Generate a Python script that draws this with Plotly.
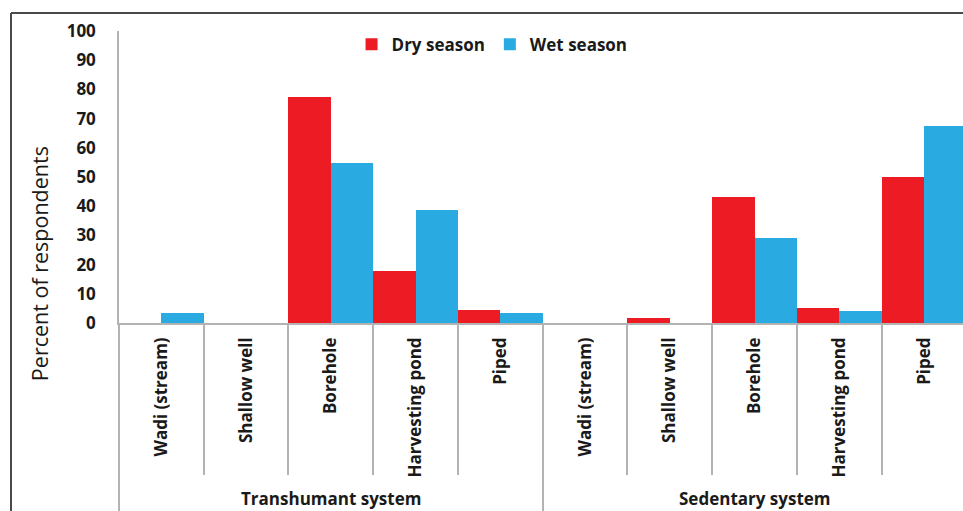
import plotly.graph_objects as go

systems = ["Transhumant system", "Sedentary system"]
sources = ["Wadi (stream)", "Shallow well", "Borehole", "Harvesting pond", "Piped"]
dry_season = [0, 0, 77.4, 17.7, 4.6, 0, 1.7, 43.2, 5.0, 50.0]
wet_season = [3.3, 0, 54.9, 38.6, 3.3, 0, 0, 29.1, 4.0, 67.3]
y_ticks = [0, 10, 20, 30, 40, 50, 60, 70, 80, 90, 100]

cat_labels = [s for _ in systems for s in sources]
n = len(cat_labels)
xpos = list(range(n))
per = len(sources)

RED = "#ED1C24"
BLUE = "#29ABE2"
GRAY = "#b3b3b3"
FONT = "Open Sans"
BOLD = dict(family=FONT, size=17, color="#1a1a1a", weight="bold")

xr = [-0.5, 9.46]

fig = go.Figure()
fig.add_trace(go.Bar(name="Dry season", x=xpos, y=dry_season, marker_color=RED))
fig.add_trace(go.Bar(name="Wet season", x=xpos, y=wet_season, marker_color=BLUE))
# helper invisible traces so overlay axes get drawn
for ax in ["x2", "x3"]:
    fig.add_trace(go.Scatter(x=[None], y=[None], xaxis=ax, showlegend=False, hoverinfo="skip"))

inner_bounds = [i + 0.5 for i in range(n - 1) if (i + 1) % per != 0]
group_bounds = [g * per - 0.5 for g in range(len(systems))]

fig.update_layout(
    template="none",
    width=963, height=511,
    margin=dict(l=119, r=0, t=31, b=188, autoexpand=False),
    paper_bgcolor="white", plot_bgcolor="white",
    barmode="group", bargap=0, bargroupgap=0,
    font=dict(family=FONT, color="#1a1a1a"),
    showlegend=True,
    legend=dict(orientation="h", x=0.442, xanchor="center", y=0.953, yanchor="middle",
                font=BOLD, bgcolor="rgba(0,0,0,0)", itemclick=False),
    xaxis=dict(range=xr, automargin=False, showgrid=False, zeroline=False, showline=True,
               linecolor=GRAY, linewidth=1.5,
               tickmode="array", tickvals=inner_bounds, ticktext=[""] * len(inner_bounds),
               ticks="outside", ticklen=150, tickcolor=GRAY, tickwidth=1.5, showticklabels=False),
    xaxis2=dict(range=xr, automargin=False, overlaying="x", side="bottom", showgrid=False,
                zeroline=False, showline=False,
                tickmode="array", tickvals=group_bounds, ticktext=[""] * len(group_bounds),
                ticks="outside", ticklen=190, tickcolor=GRAY, tickwidth=1.5, showticklabels=False),
    xaxis3=dict(range=xr, automargin=False, overlaying="x", side="bottom", showgrid=False,
                zeroline=False, showline=False,
                tickmode="array", tickvals=xpos, ticktext=cat_labels, tickangle=-90,
                ticks="", tickfont=BOLD, ticklabelstandoff=10),
    yaxis=dict(range=[0, 100], automargin=False, tickmode="array", tickvals=y_ticks,
               showgrid=False, zeroline=False,
               showline=True, linecolor=GRAY, linewidth=1.5, ticks="", tickfont=BOLD,
               ticklabelstandoff=18),
)

# group labels
for g, name in enumerate(systems):
    fig.add_annotation(x=g * per + (per - 1) / 2, xref="x", y=-0.602, yref="paper",
                       text=name, showarrow=False, font=BOLD, yanchor="middle")

# y axis title
fig.add_annotation(x=-0.0948, xref="paper", y=0.205, yref="paper", text="Percent of respondents",
                   textangle=-90, showarrow=False,
                   font=dict(family=FONT, size=21.5, color="#1a1a1a", weight=500),
                   xanchor="center", yanchor="middle")

# outer frame (top and left edges)
fig.add_shape(type="line", xref="paper", yref="paper", xsizemode="pixel", ysizemode="pixel",
              xanchor=0, yanchor=1, x0=-108, x1=850, y0=18, y1=18,
              line=dict(color="#4a4a4a", width=2))
fig.add_shape(type="line", xref="paper", yref="paper", xsizemode="pixel", ysizemode="pixel",
              xanchor=0, yanchor=1, x0=-108, x1=-108, y0=18, y1=-500,
              line=dict(color="#4a4a4a", width=2))

fig.write_html("out.html", config={"displayModeBar": False},
               post_script="document.body.style.margin='0';document.body.style.overflow='hidden';")
